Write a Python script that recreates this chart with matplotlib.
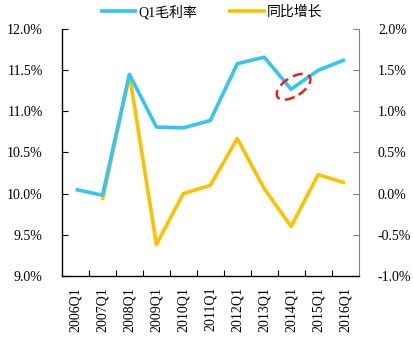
import numpy as np
import matplotlib.pyplot as plt
from matplotlib.patches import Ellipse
from matplotlib.transforms import ScaledTranslation
from matplotlib.ticker import FuncFormatter, FixedLocator

plt.rcParams['font.family'] = ['Liberation Serif', 'Noto Sans CJK SC']

quarters = ["2006Q1", "2007Q1", "2008Q1", "2009Q1", "2010Q1", "2011Q1",
            "2012Q1", "2013Q1", "2014Q1", "2015Q1", "2016Q1"]
# Q1 gross margin, % (left axis)
margin = [10.05, 9.98, 11.45, 10.81, 10.80, 10.89, 11.58, 11.66, 11.27, 11.50, 11.63]
# YoY change, % (right axis); no value for 2006Q1
yoy = [np.nan, -0.08, 1.45, -0.62, 0.0, 0.1, 0.67, 0.06, -0.40, 0.23, 0.13]

blue = "#33c5f3"
orange = "#ffc000"

fig = plt.figure(figsize=(4.14, 3.40), dpi=100)
ax = fig.add_axes([0.150, 0.189, 0.716, 0.725])
ax2 = ax.twinx()

x = np.arange(len(quarters))
l1, = ax.plot(x, margin, color=blue, lw=2.6, solid_capstyle="butt", label="Q1毛利率")
l2, = ax2.plot(x, yoy, color=orange, lw=2.6, solid_capstyle="butt", label="同比增长")
ax.set_zorder(ax2.get_zorder() + 1)
ax.patch.set_visible(False)

ax.set_xlim(-0.5, len(quarters) - 0.5)
ax.set_ylim(9.0, 12.0)
ax2.set_ylim(-1.0, 2.0)
ax.set_yticks(np.arange(9.0, 12.01, 0.5))
ax2.set_yticks(np.arange(-1.0, 2.01, 0.5))
ax.yaxis.set_major_formatter(FuncFormatter(lambda v, p: f"{v:.1f}%"))
ax2.yaxis.set_major_formatter(FuncFormatter(lambda v, p: f"{v:.1f}%"))

ax.set_xticks(x)
ax.set_xticklabels(quarters, rotation=90)
ax.xaxis.set_minor_locator(FixedLocator(np.arange(0.5, len(quarters) - 1, 1.0)))
ax.tick_params(axis="x", which="major", length=0, pad=8, labelsize=10)
ax.tick_params(axis="x", which="minor", direction="in", length=4, width=0.8)
ax.tick_params(axis="y", direction="in", length=4, width=0.8, labelsize=10, pad=14)
ax2.tick_params(axis="y", direction="in", length=4, width=0.8, labelsize=10,
                color="#808080", pad=14)

ax.spines["top"].set_visible(False)
ax.spines["right"].set_visible(False)
ax2.spines["top"].set_visible(False)
ax2.spines["left"].set_visible(False)
ax2.spines["bottom"].set_visible(False)
ax2.spines["right"].set_color("#808080")
for s in ["left", "bottom"]:
    ax.spines[s].set_linewidth(1.0)

# red dashed highlight around 2014Q1
trans = fig.dpi_scale_trans + ScaledTranslation(8.09, 11.30, ax.transData)
ax.add_patch(Ellipse((0, 0), 0.38, 0.19, angle=32, transform=trans,
                     fill=False, ec="#e8231f", lw=1.8, ls=(0, (4, 2.2)),
                     clip_on=False, zorder=5))

fig.legend(handles=[l1, l2], loc="center", bbox_to_anchor=(0.51, 0.965), ncol=2,
           frameon=False, fontsize=10, handlelength=2.7, handletextpad=0.1,
           columnspacing=2.2)

fig.savefig("out.png", dpi=100)
